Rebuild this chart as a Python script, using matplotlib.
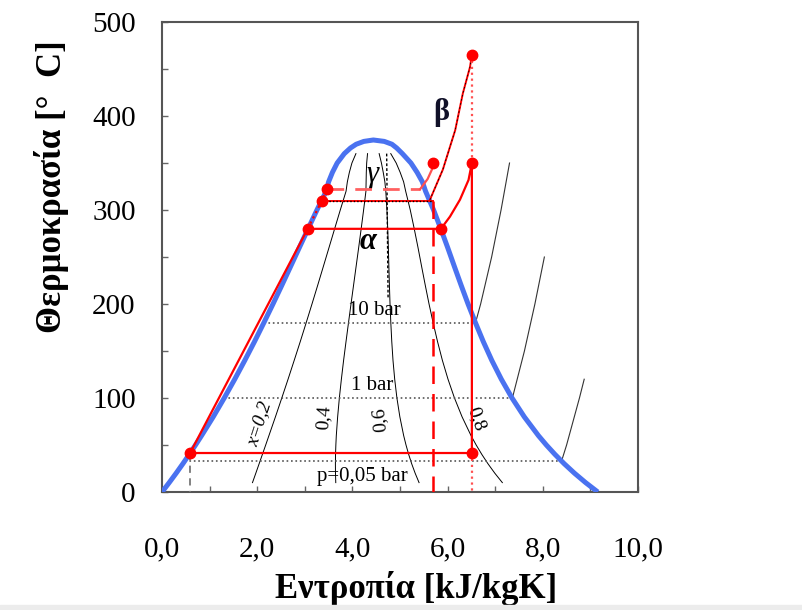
import numpy as np
import matplotlib
matplotlib.use("Agg")
import matplotlib.pyplot as plt
from matplotlib.ticker import MultipleLocator, FuncFormatter
from matplotlib.patches import Rectangle

plt.rcParams['font.family'] = ['Liberation Serif', 'DejaVu Serif']

# saturation line of water: temperature [C], entropy of liquid / vapour [kJ/kgK]
t_sat = [0, 10, 20, 30, 40, 50, 60, 80, 100, 120, 140, 160, 180, 200, 220,
         240, 260, 280, 300, 320, 330, 340, 350, 360, 366, 370, 373, 374.5]
s_liq = [0.0, 0.151, 0.297, 0.437, 0.572, 0.704, 0.831, 1.076, 1.307, 1.528,
         1.739, 1.943, 2.139, 2.331, 2.518, 2.702, 2.885, 3.069, 3.255, 3.449,
         3.50, 3.58, 3.68, 3.83, 3.96, 4.08, 4.24, 4.44]
s_vap = [9.156, 8.900, 8.666, 8.452, 8.256, 8.075, 7.908, 7.611, 7.354, 7.129,
         6.929, 6.750, 6.586, 6.430, 6.284, 6.142, 6.002, 5.857, 5.706, 5.537,
         5.47, 5.36, 5.23, 5.05, 4.93, 4.83, 4.67, 4.44]

qualities = [0.2, 0.4, 0.6, 0.8]

# isobars: saturation part (liquid -> vapour) and superheated part
p10_s = [2.138, 6.586, 6.694, 6.925, 7.123, 7.301]
p10_T = [179.9, 179.9, 200, 250, 300, 350]
p1_s = [1.303, 7.359, 7.614, 7.834, 8.033]
p1_T = [99.6, 99.6, 150, 200, 250]
p005_s = [0.476, 8.394, 8.50, 8.77, 8.87]
p005_T = [32.9, 32.9, 50, 100, 120]

# Rankine cycle
cycle_s = [0.59, 3.06, 5.86, 6.05, 6.26, 6.44, 6.51, 6.51, 0.59]
cycle_T = [41.5, 280, 280, 293, 311, 332, 350, 41.5, 41.5]
cycle_pts_s = [0.59, 3.06, 5.86, 6.51, 6.51]
cycle_pts_T = [41.5, 280, 280, 350, 41.5]

liq_s = [3.06, 3.36, 3.47]
liq_T = [280, 310, 322]

a_s = [3.36, 5.69]          # evaporation at 310 C
a_T = [310, 310]
g_s = [3.47, 5.42]          # evaporation at 322 C
g_T = [322, 322]
g_rise_s = [5.42, 5.58, 5.67, 5.70]
g_rise_T = [322, 333, 343, 350]
b_s = [5.63, 5.90, 6.16, 6.32, 6.47, 6.51]
b_T = [311, 343, 385, 424, 452, 465]
extra_pts_s = [3.36, 3.47, 5.70, 6.51]
extra_pts_T = [310, 322, 350, 465]

fig = plt.figure(figsize=(8.02, 6.10), dpi=100)
ax = fig.add_axes([0.202, 0.1934, 0.5935, 0.7705])

# saturation dome
dome_s = s_liq + s_vap[::-1][1:]
dome_T = t_sat + t_sat[::-1][1:]

# quality lines
for q in qualities:
    qs = [sl + q * (sv - sl) for sl, sv, t in zip(s_liq, s_vap, t_sat) if 10 <= t <= 360]
    qt = [t for t in t_sat if 10 <= t <= 360]
    ax.plot(qs, qt, color='black', lw=0.7, zorder=2)

# isobars
for ps, pt in [(p10_s, p10_T), (p1_s, p1_T), (p005_s, p005_T)]:
    ax.plot(ps[:2], pt[:2], color='#555555', lw=1.2, ls=':', zorder=2)
    ax.plot(ps[1:], pt[1:], color='#333333', lw=0.8, zorder=2)

ax.plot([4.72, 4.75], [360, 205], color='black', lw=1.0, ls=(0, (2, 1.5)), zorder=2)

ax.plot(dome_s, dome_T, color='#4a72f0', lw=3.6, solid_capstyle='butt', zorder=3)

# cycle
ax.plot(cycle_s, cycle_T, color='red', lw=1.6, zorder=4)
ax.plot(liq_s, liq_T, color='red', lw=1.6, ls=':', zorder=4)
ax.plot(a_s, a_T, color='red', lw=1.4, zorder=4)
ax.plot(a_s, a_T, color='black', lw=1.0, ls=(0, (1, 1.5)), zorder=4)
ax.plot(g_s, g_T, color='#ff6060', lw=2.0, ls=(0, (6, 4)), zorder=4)
ax.plot(g_rise_s, g_rise_T, color='#ff5050', lw=1.6, zorder=4)
ax.plot(b_s, b_T, color='red', lw=1.4, zorder=4)
ax.plot(b_s, b_T, color='black', lw=0.6, ls=(0, (2, 3)), zorder=4)
ax.plot([5.69, 5.69], [310, 0], color='red', lw=1.8, ls=(0, (7, 4)), zorder=4)
ax.plot([6.51, 6.51], [465, 350], color='#ff5050', lw=1.6, ls=':', zorder=4)
ax.plot([6.51, 6.51], [41.5, 0], color='#ff5050', lw=1.6, ls=':', zorder=4)
ax.plot([0.59, 0.59], [41.5, 0], color='#777777', lw=1.3, ls=(0, (4, 3)), zorder=4)

ax.plot(cycle_pts_s, cycle_pts_T, 'o', color='red', ms=7.5, zorder=5)
ax.plot(extra_pts_s, extra_pts_T, 'o', color='red', ms=7.5, zorder=5)

# labels inside the plot
ax.text(4.47, 193, "10 bar", fontsize=15, ha='center', va='center')
ax.text(4.41, 113, "1 bar", fontsize=15, ha='center', va='center')
ax.text(4.2, 16, "p=0,05 bar", fontsize=15, ha='center', va='center')
ax.text(2.04, 73, "x=0,2", fontsize=14, ha='center', va='center', rotation=72, style='italic')
ax.text(3.40, 79, "0,4", fontsize=14, ha='center', va='center', rotation=86)
ax.text(4.58, 77, "0,6", fontsize=14, ha='center', va='center', rotation=95)
ax.text(6.60, 78, "0,8", fontsize=14, ha='center', va='center', rotation=-70)
ax.text(4.33, 266, "α", fontsize=22, ha='center', va='center', weight='bold', style='italic')
ax.text(5.86, 404, "β", fontsize=22, ha='center', va='center', weight='bold', color='#101028')
ax.text(4.43, 338, "γ", fontsize=22, ha='center', va='center', style='italic')

ax.set_xlim(0, 10)
ax.set_ylim(0, 500)
ax.xaxis.set_major_locator(MultipleLocator(2))
ax.xaxis.set_minor_locator(MultipleLocator(1))
ax.yaxis.set_major_locator(MultipleLocator(100))
ax.yaxis.set_minor_locator(MultipleLocator(50))
ax.xaxis.set_major_formatter(FuncFormatter(lambda v, p: f"{v:.1f}".replace('.', ',')))
ax.yaxis.set_major_formatter(FuncFormatter(lambda v, p: f"{v:.0f}"))
ax.tick_params(which='both', direction='in', length=4.5, width=1, color='#666666',
               top=False, right=False)
ax.tick_params(axis='x', labelsize=21, pad=32)
ax.tick_params(axis='y', labelsize=21, pad=19)
for sp in ax.spines.values():
    sp.set_color('#555555')
    sp.set_linewidth(1.5)

ax.set_xlabel("Εντροπία [kJ/kgK]", fontsize=25, weight='bold')
ax.xaxis.set_label_coords(0.534, -0.168)
ax.set_ylabel("Θερμοκρασία [°  C]", fontsize=25, weight='bold')
ax.yaxis.set_label_coords(-0.195, 0.649)

fig.patches.append(Rectangle((0, 0), 1, 0.008, transform=fig.transFigure,
                             color='#ececec', zorder=0))

fig.savefig("out.png", dpi=100)
